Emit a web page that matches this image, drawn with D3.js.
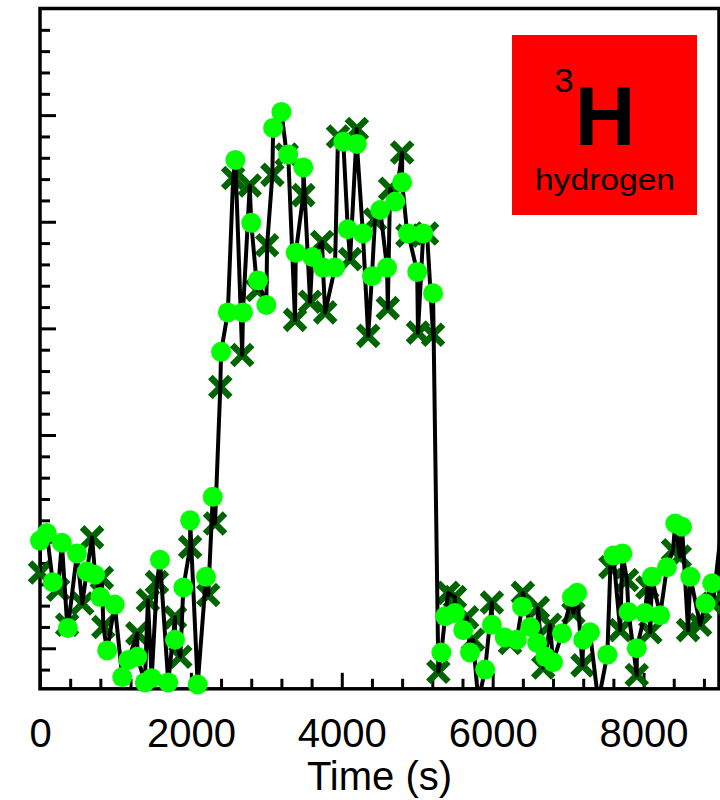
<!DOCTYPE html>
<html>
<head>
<meta charset="utf-8">
<script src="https://cdnjs.cloudflare.com/ajax/libs/d3/7.8.5/d3.min.js"></script>
<style>
body{margin:0;background:#fff}
svg{display:block;font-family:"Liberation Sans",Arial,sans-serif}
</style>
</head>
<body>
<script>
// dark green crosses
const crossT = [0,240,360,560,690,820,840,1290,1430,1550,1790,1860,1990,2230,2320,2390,2560,2680,2780,2880,
  3010,3080,3270,3380,3490,3580,3740,3780,3950,4110,4200,4350,4440,4610,4640,4800,4870,5010,5130,5210,
  5280,5410,5500,5660,5740,5990,6230,6400,6600,6670,6760,7070,7190,7560,7690,7780,7910,8050,8090,8390,
  8480,8590,8750,8920]
const crossV = [0.71,0.55,0.22,0.42,1.04,0.66,0.20,0.14,0.45,0.62,0.29,-0.08,0.95,0.50,1.17,2.45,4.41,2.75,4.34,3.36,
  3.78,4.44,4.63,3.08,4.25,3.25,3.81,3.15,4.80,3.65,4.87,2.93,4.02,3.19,4.31,4.65,3.87,2.96,3.89,2.94,
  -0.22,0.52,0.48,0.29,0.08,0.43,0.05,0.52,0.38,-0.18,0.22,0.33,-0.16,0.76,0.17,0.64,-0.25,0.57,0.15,0.92,
  0.86,0.17,0.22,0.42]
// lime dots
const dotT = [0,90,170,290,370,490,620,730,800,890,990,1090,1170,1290,1390,1480,1590,1700,1790,1900,
  1990,2090,2200,2290,2400,2490,2590,2690,2800,2890,3000,3090,3200,3290,3390,3490,3610,3750,3910,4020,
  4080,4200,4280,4400,4510,4600,4710,4800,4880,5000,5080,5210,5320,5370,5500,5610,5700,5900,5990,6160,
  6320,6390,6500,6590,6700,6800,6920,7050,7120,7200,7290,7520,7600,7720,7800,7910,8020,8110,8220,8310,
  8420,8510,8620,8820,8910]
const dotV = [1.01,1.08,0.62,0.99,0.19,0.89,0.72,0.69,0.48,-0.02,0.41,-0.27,-0.11,-0.08,-0.32,-0.28,0.83,-0.32,0.08,0.57,
  1.20,-0.34,0.67,1.42,2.78,3.15,4.58,3.15,3.99,3.45,3.22,4.88,5.03,4.63,3.71,4.51,3.67,3.57,3.57,4.75,
  3.93,4.73,3.89,3.49,4.11,3.57,4.19,4.37,3.89,3.53,3.89,3.33,-0.04,0.30,0.33,0.17,-0.04,-0.20,0.22,0.10,
  0.08,0.39,0.20,0.05,-0.08,-0.13,0.14,0.48,0.52,0.08,0.15,-0.06,0.87,0.89,0.34,0.00,0.33,0.67,0.31,0.76,
  1.17,1.14,0.67,0.42,0.61]
// trace-only points (dips below the axis, run-off past the right edge)
const dipT = [5810,7400,9280]
const dipV = [-0.5,-0.5,2.7]

const xTicks = [0,2000,4000,6000,8000]
const xLabel = 'Time (s)'
const badgeText = ['3','H','hydrogen']

const svg = d3.select('body').append('svg').attr('width',720).attr('height',800)
const x = d3.scaleLinear().domain([0,9000]).range([40,719])
const y = d3.scaleLinear().domain([-0.38,6]).range([688.8,8.5])

svg.append('clipPath').attr('id','plot')
  .append('rect').attr('x',40).attr('y',8.5).attr('width',679).attr('height',680.3)

// inside ticks, left axis
const yMajor = d3.range(0,6,1), yMinor = d3.range(-0.2,5.9,0.2).filter(v => Math.abs(v-Math.round(v))>0.01)
;[[yMajor,16],[yMinor,10]].forEach(([vals,len]) => {
  svg.append('g').attr('transform','translate(40,0)')
    .call(d3.axisRight(y).tickValues(vals).tickSize(len).tickFormat(''))
    .call(g => g.select('.domain').remove())
    .selectAll('line').attr('stroke-width',3)
})
// inside ticks, bottom axis, labels below
const xMinor = d3.range(400,9000,400).filter(v => v%2000)
svg.append('g').attr('transform','translate(0,688.8)')
  .call(d3.axisBottom(x).tickValues(xMinor).tickSize(-10).tickFormat(''))
  .call(g => g.select('.domain').remove())
  .selectAll('line').attr('stroke-width',3)
svg.append('g').attr('transform','translate(0,688.8)')
  .call(d3.axisBottom(x).tickValues(xTicks).tickSize(-16).tickPadding(30).tickFormat(d3.format('d')))
  .call(g => g.select('.domain').remove())
  .call(g => g.selectAll('line').attr('stroke-width',3))
  .selectAll('text').attr('font-size',40).attr('fill','#000').attr('font-family','"Liberation Sans",Arial,sans-serif')

svg.append('text').attr('x',379.5).attr('y',790).attr('text-anchor','middle')
  .attr('font-size',40).text(xLabel)

// frame
svg.append('rect').attr('x',40).attr('y',8.5).attr('width',679).attr('height',680.3)
  .attr('fill','none').attr('stroke','#000').attr('stroke-width',3.5)

const crosses = crossT.map((t,i) => ({t,v:crossV[i]}))
const dots = dotT.map((t,i) => ({t,v:dotV[i]}))
const trace = crosses.concat(dots, dipT.map((t,i) => ({t,v:dipV[i]}))).sort((a,b) => a.t-b.t)

svg.append('g').selectAll('path')
  .data(crosses).enter().append('path')
    .attr('transform',d => `translate(${x(d.t)},${y(d.v)})`)
    .attr('d','M-10,-10L10,10M-10,10L10,-10')
    .attr('stroke','#006400').attr('stroke-width',6.5)

svg.append('path').datum(trace)
  .attr('clip-path','url(#plot)')
  .attr('fill','none').attr('stroke','#000').attr('stroke-width',4).attr('stroke-linejoin','round')
  .attr('d',d3.line().x(d => x(d.t)).y(d => y(d.v)))

svg.append('g').selectAll('circle')
  .data(dots).enter().append('circle')
    .attr('cx',d => x(d.t)).attr('cy',d => y(d.v)).attr('r',10)
    .attr('fill','#00ff00')

// element badge
const badge = svg.append('g')
badge.append('rect').attr('x',512).attr('y',35).attr('width',185).attr('height',180).attr('fill','#ff0000')
badge.append('text').attr('x',564).attr('y',92).attr('text-anchor','middle').attr('font-size',33)
  .attr('textLength',19).attr('lengthAdjust','spacingAndGlyphs').text(badgeText[0])
badge.append('text').attr('x',605).attr('y',145).attr('text-anchor','middle').attr('font-size',84)
  .attr('font-weight','bold').text(badgeText[1])
badge.append('text').attr('x',605).attr('y',190).attr('text-anchor','middle').attr('font-size',30)
  .attr('textLength',140).attr('lengthAdjust','spacingAndGlyphs').text(badgeText[2])
</script>
</body>
</html>
